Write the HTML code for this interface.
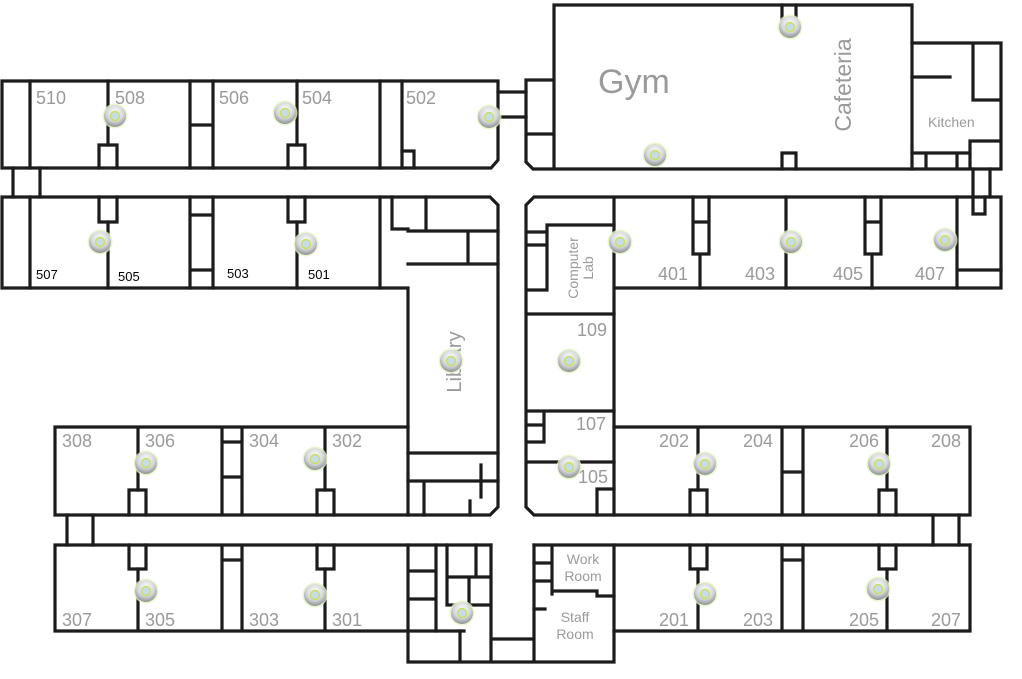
<!DOCTYPE html>
<html><head><meta charset="utf-8"><style>
html,body{margin:0;padding:0;background:#fff;}
svg{display:block;}
text{font-family:"Liberation Sans",sans-serif;fill:#9a9a9a;}
.b{fill:#000;font-size:13px;}
.n{font-size:18px;}
</style></head><body>
<svg width="1022" height="679" viewBox="0 0 1022 679" xmlns="http://www.w3.org/2000/svg">
<defs>
<radialGradient id="ap" cx="50%" cy="35%" r="65%">
<stop offset="0" stop-color="#ffffff"/><stop offset="0.6" stop-color="#d4d6d8"/><stop offset="1" stop-color="#8e9296"/>
</radialGradient>
<g id="a"><circle r="12.5" fill="#e3f5c0" opacity="0.8"/><circle r="11" fill="url(#ap)"/><circle r="4.5" fill="#c8dce8" stroke="#c8e060" stroke-width="1.4"/></g>
</defs>
<g fill="none" stroke="#1c1c1c" stroke-width="3.2" stroke-linecap="square">
<!-- 500s top row -->
<path d="M2 81 H498 V160 L491 168 H2 Z"/>
<path d="M30 81V168 M108 81V145 M190 81V168 M213 81V168 M297 81V145 M380 81V168 M402 81V168 M190 125H213"/>
<path d="M99 168V145H117V168 M288 168V145H305V168 M402 151H414V168"/>
<path d="M498 92H526 M498 117H526"/>
<path d="M13 168V197 M40 168V197"/>
<!-- 500s bottom row -->
<path d="M2 197 H490 L498 205 V507 L490 515 H408 V288 H2 Z"/>
<path d="M30 197V288 M108 222V288 M190 197V288 M213 197V288 M297 222V288 M380 197V288 M190 215H213 M190 270H213"/>
<path d="M99 197V222H117V197 M288 197V222H305V197"/>
<path d="M392 197V229H408 M426 197V231 M408 231H498 M468 231V264 M408 264H498"/>
<path d="M408 453H498 M408 481H498 M424 481V515 M481 465V497 M470 501V515"/>
<!-- Gym -->
<path d="M554 5H912V169H533L526 162V80H554 M526 134H554 M554 5V169"/>
<path d="M782 5V20 M796 5V20 M782 169V153H796V169"/>
<path d="M912 43H1001V169H912 M912 77H950 M973 43V100H1001 M912 153H970 M926 153V169 M957 153V169 M970 141H1001 M970 141V169"/>
<path d="M973 169V197 M990 169V197 M973 197V214H985V197"/>
<!-- 400s -->
<path d="M1001 197H534L526 205V507L534 515H614 M614 197V515 M614 288H1001V197"/>
<path d="M547 225H614 M547 225V290 M527 232H547 M527 245H547 M527 290H547 M527 314H614 M527 411H614 M544 411V442 M527 425H544 M527 442H544 M527 462H614 M597 515V489H614"/>
<path d="M693 197V254H709V197 M693 222H709 M700 254V288 M786 197V288 M865 197V254H881V197 M865 222H881 M872 254V288 M957 197V288 M957 270H1001"/>
<!-- 300s -->
<path d="M55 427H408 M55 427V515H408 M138 427V490 M222 427V515 M242 427V515 M325 427V490 M222 442H242 M222 477H242"/>
<path d="M129 515V490H146V515 M317 515V490H334V515"/>
<path d="M67 515V545 M93 515V545"/>
<path d="M55 545H491 M55 545V631H464 M138 569V631 M222 545V631 M242 545V631 M325 569V631 M222 560H242"/>
<path d="M129 545V569H146V545 M317 545V569H334V545"/>
<!-- center bottom -->
<path d="M408 545V662H614V545 M436 545V631 M408 571H436 M408 599H436 M447 545V605H491 M476 545V577 M447 577H491 M469 577V605 M491 545V662 M460 631V662 M491 639H534 M534 545V662"/>
<path d="M534 545H970 M552 545V594 M534 563H552 M534 581H552 M552 591H597V596H614 M534 609H545"/>
<!-- 200s -->
<path d="M614 427H970V515H614 M698 427V490 M782 427V515 M803 427V515 M887 427V490 M782 472H803"/>
<path d="M690 515V490H707V515 M879 515V490H896V515"/>
<path d="M933 515V545 M959 515V545"/>
<path d="M970 545V631H614 M698 569V631 M782 545V631 M803 545V631 M887 569V631 M782 560H803"/>
<path d="M690 545V569H707V545 M879 545V569H896V545"/>
</g>
<!-- labels -->
<g class="n">
<text x="36" y="104">510</text><text x="115" y="104">508</text><text x="219" y="104">506</text><text x="302" y="104">504</text><text x="406" y="104">502</text>
<text x="658" y="280">401</text><text x="745" y="280">403</text><text x="833" y="280">405</text><text x="915" y="280">407</text>
<text x="577" y="336">109</text><text x="576" y="430">107</text><text x="578" y="483">105</text>
<text x="62" y="447">308</text><text x="145" y="447">306</text><text x="249" y="447">304</text><text x="332" y="447">302</text>
<text x="62" y="626">307</text><text x="145" y="626">305</text><text x="249" y="626">303</text><text x="332" y="626">301</text>
<text x="659" y="447">202</text><text x="743" y="447">204</text><text x="849" y="447">206</text><text x="931" y="447">208</text>
<text x="659" y="626">201</text><text x="743" y="626">203</text><text x="849" y="626">205</text><text x="931" y="626">207</text>
</g>
<text class="b" x="36" y="279">507</text><text class="b" x="118" y="281">505</text><text class="b" x="227" y="278">503</text><text class="b" x="308" y="279">501</text>
<text x="598" y="93" style="font-size:34px">Gym</text>
<text transform="translate(851,85) rotate(-90)" text-anchor="middle" style="font-size:23px">Cafeteria</text>
<text x="928" y="127" style="font-size:14px">Kitchen</text>
<text transform="translate(578,268) rotate(-90)" text-anchor="middle" style="font-size:14px">Computer</text>
<text transform="translate(593,268) rotate(-90)" text-anchor="middle" style="font-size:14px">Lab</text>
<text transform="translate(461,362) rotate(-90)" text-anchor="middle" style="font-size:20px">Library</text>
<text x="583" y="564" text-anchor="middle" style="font-size:14px">Work</text><text x="583" y="581" text-anchor="middle" style="font-size:14px">Room</text>
<text x="575" y="622" text-anchor="middle" style="font-size:14px">Staff</text><text x="575" y="639" text-anchor="middle" style="font-size:14px">Room</text>
<!-- access points -->
<use href="#a" x="115" y="116"/><use href="#a" x="285" y="113"/><use href="#a" x="489" y="117"/>
<use href="#a" x="790" y="27"/><use href="#a" x="655" y="155"/>
<use href="#a" x="100" y="242"/><use href="#a" x="306" y="244"/>
<use href="#a" x="620" y="242"/><use href="#a" x="791" y="242"/><use href="#a" x="945" y="240"/>
<use href="#a" x="451" y="361"/><use href="#a" x="569" y="361"/><use href="#a" x="569" y="467"/>
<use href="#a" x="146" y="463"/><use href="#a" x="315" y="459"/>
<use href="#a" x="705" y="464"/><use href="#a" x="879" y="464"/>
<use href="#a" x="146" y="591"/><use href="#a" x="315" y="595"/><use href="#a" x="462" y="613"/>
<use href="#a" x="705" y="594"/><use href="#a" x="878" y="589"/>
</svg>
</body></html>
